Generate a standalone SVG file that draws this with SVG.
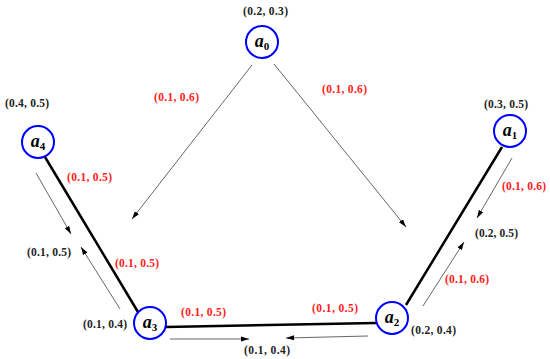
<svg xmlns="http://www.w3.org/2000/svg" width="550" height="359" viewBox="0 0 550 359">
<style>
.node{fill:#fff;stroke:#0000ff;stroke-width:2}
.nl{font-family:"Liberation Serif",serif;font-style:italic;font-weight:bold;font-size:18px;fill:#000}
.sub{font-size:11px;font-style:normal}
.thick{stroke:#000;stroke-width:2.5;fill:none}
.thin{stroke:#555;stroke-width:0.9;fill:none;marker-end:url(#ah)}
.lb{font-family:"Liberation Serif",serif;font-weight:bold;font-size:11.5px;fill:#222}
.red{fill:#ff2020}
</style>
<defs>
<marker id="ah" markerUnits="userSpaceOnUse" markerWidth="9" markerHeight="6" refX="8" refY="3" orient="auto">
<path d="M0,0.5 L8,3 L0,5.5 Z" fill="#000"/>
</marker>
</defs>
<g id="connectors">
<line class="thick" x1="45" y1="157" x2="138" y2="312"/>
<line class="thick" x1="166" y1="327" x2="376" y2="323"/>
<line class="thick" x1="406" y1="305" x2="502" y2="147"/>
<line class="thin" x1="252" y1="65" x2="132" y2="219"/>
<line class="thin" x1="274" y1="64" x2="406" y2="227"/>
<line class="thin" x1="36" y1="173" x2="71" y2="234"/>
<line class="thin" x1="120" y1="309" x2="81" y2="247"/>
<line class="thin" x1="170" y1="339" x2="249" y2="339"/>
<line class="thin" x1="368" y1="336" x2="286" y2="338"/>
<line class="thin" x1="512" y1="158" x2="477" y2="218"/>
<line class="thin" x1="423" y1="306" x2="464" y2="242"/>
</g>
<g id="a0"><circle class="node" cx="262" cy="42" r="16"/><text class="nl" x="262" y="47" text-anchor="middle">a<tspan class="sub" dy="3">0</tspan></text></g>
<g id="a1"><circle class="node" cx="510" cy="131" r="16"/><text class="nl" x="510" y="136" text-anchor="middle">a<tspan class="sub" dy="3">1</tspan></text></g>
<g id="a2"><circle class="node" cx="392" cy="318" r="16"/><text class="nl" x="392" y="323" text-anchor="middle">a<tspan class="sub" dy="3">2</tspan></text></g>
<g id="a3"><circle class="node" cx="150" cy="323" r="16"/><text class="nl" x="150" y="328" text-anchor="middle">a<tspan class="sub" dy="3">3</tspan></text></g>
<g id="a4"><circle class="node" cx="38" cy="142" r="16"/><text class="nl" x="38" y="147" text-anchor="middle">a<tspan class="sub" dy="3">4</tspan></text></g>
<g id="labels">
<text class="lb" x="243" y="15" textLength="45">(0.2, 0.3)</text>
<text class="lb" x="5" y="107" textLength="44">(0.4, 0.5)</text>
<text class="lb" x="484" y="108" textLength="44">(0.3, 0.5)</text>
<text class="lb" x="83" y="328" textLength="44">(0.1, 0.4)</text>
<text class="lb" x="411" y="334" textLength="45">(0.2, 0.4)</text>
<text class="lb" x="244" y="354" textLength="46">(0.1, 0.4)</text>
<text class="lb" x="27" y="256" textLength="44">(0.1, 0.5)</text>
<text class="lb" x="475" y="237" textLength="43">(0.2, 0.5)</text>
<text class="lb red" x="154" y="101" textLength="45">(0.1, 0.6)</text>
<text class="lb red" x="322" y="93" textLength="45">(0.1, 0.6)</text>
<text class="lb red" x="67" y="181" textLength="45">(0.1, 0.5)</text>
<text class="lb red" x="115" y="267" textLength="44">(0.1, 0.5)</text>
<text class="lb red" x="181" y="316" textLength="45">(0.1, 0.5)</text>
<text class="lb red" x="312" y="312" textLength="46">(0.1, 0.5)</text>
<text class="lb red" x="502" y="190" textLength="44">(0.1, 0.6)</text>
<text class="lb red" x="445" y="283" textLength="44">(0.1, 0.6)</text>
</g>
</svg>
